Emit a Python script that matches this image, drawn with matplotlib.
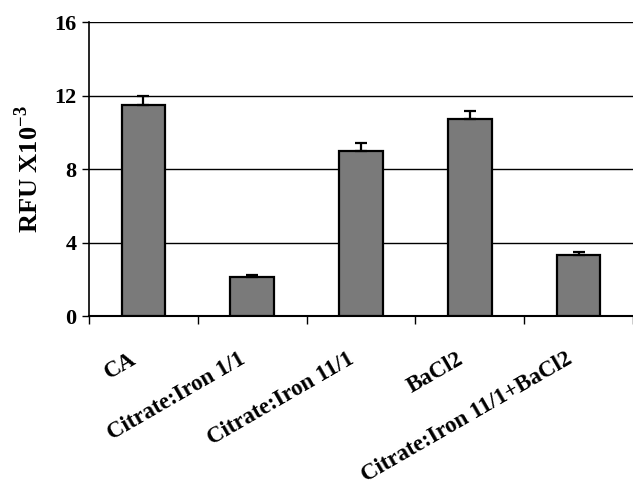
import numpy as np
import matplotlib.pyplot as plt

# values (RFU x 10^-3)
labels = ['CA', 'Citrate:Iron 1/1', 'Citrate:Iron 11/1', 'BaCl2', 'Citrate:Iron 11/1+BaCl2']
rfu = [11.5, 2.15, 9.0, 10.75, 3.35]
err = [0.5, 0.1, 0.4, 0.4, 0.12]

plt.rcParams['font.family'] = ['Liberation Serif', 'DejaVu Serif']
plt.rcParams['font.weight'] = 'bold'
plt.rcParams['mathtext.fontset'] = 'custom'
plt.rcParams['mathtext.rm'] = 'Liberation Serif:bold'
plt.rcParams['mathtext.bf'] = 'Liberation Serif:bold'

fig = plt.figure(figsize=(6.33, 4.91), dpi=100)
ax = fig.add_axes([0.1406, 0.356, 0.8594, 0.599])

x = np.arange(len(labels))
ax.bar(x, rfu, width=0.4, color='#7a7a7a', edgecolor='black', linewidth=1.6,
       yerr=[np.zeros(len(err)), err], capsize=4,
       error_kw=dict(ecolor='black', elinewidth=1.6, capthick=1.6), zorder=3)

ax.set_xlim(-0.5, len(labels) - 0.5)
ax.set_ylim(0, 16)
ax.set_yticks([0, 4, 8, 12, 16])
ax.yaxis.grid(True, color='black', linewidth=1.0, zorder=0)
ax.set_axisbelow(True)

# ticks between categories, labels placed by hand under the bars
ax.set_xticks(np.arange(len(labels) + 1) - 0.5)
ax.set_xticklabels([])
ax.tick_params(axis='x', direction='out', length=6, width=1)
ax.tick_params(axis='y', direction='out', length=5, width=1, labelsize=16, pad=4)

for s in ['top', 'right']:
    ax.spines[s].set_visible(False)
ax.spines['left'].set_linewidth(1.2)
ax.spines['bottom'].set_linewidth(1.5)

for i, lab in enumerate(labels):
    ax.annotate(lab, xy=(i, 0), xycoords=('data', 'axes fraction'),
                xytext=(-3, -32), textcoords='offset pixels',
                rotation=30, ha='right', va='top', fontsize=16.5, fontweight='bold')

ax.set_ylabel('RFU X10$^{\\mathrm{-3}}$', fontsize=19, fontweight='bold', labelpad=8)

fig.savefig('out.png', dpi=100)
